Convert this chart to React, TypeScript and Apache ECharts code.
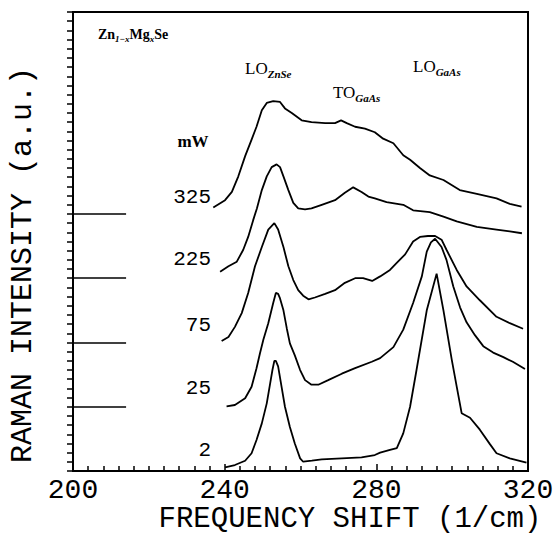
import React, { useEffect, useRef } from "react";
import * as echarts from "echarts";

// ---- data (frequency shift in 1/cm, relative intensity in a.u.) ----
const POWER_LABELS = ["2", "25", "75", "225", "325"];
const OFFSETS = [0, 7, 14, 21, 28];
const X_TICKS = [200, 240, 280, 320];

const FREQ_2MW = [240.1, 242.7, 245.4, 247.1, 248.4, 249.8, 251.1, 252.0, 252.6, 253.1, 253.5, 254.1, 255.0, 255.9, 257.2, 258.5, 259.9, 260.7, 263.0, 265.6, 270.9, 276.1, 279.6, 281.0, 283.6, 285.4, 287.1, 288.9, 290.6, 293.3, 295.9, 297.7, 299.9, 301.2, 302.5, 304.7, 307.3, 310.0, 311.7, 315.2, 319.6];
const INT_2MW = [0.4, 0.65, 1.12, 1.93, 3.38, 5.19, 7.37, 9.55, 11.0, 12.0, 12.0, 11.4, 9.2, 7.0, 4.8, 3.0, 1.38, 1.01, 1.12, 1.27, 1.38, 1.49, 1.74, 2.0, 2.3, 2.5, 4.1, 7.0, 11.0, 17.5, 21.5, 17.5, 12.1, 9.2, 6.3, 5.8, 4.5, 2.9, 1.93, 1.38, 0.9];

const FREQ_25MW = [240.5, 242.7, 245.4, 247.1, 248.4, 249.3, 250.2, 251.5, 252.8, 253.5, 254.1, 254.6, 255.5, 256.4, 257.2, 258.5, 259.9, 261.2, 262.9, 264.7, 267.3, 270.9, 274.4, 278.8, 281.0, 284.5, 287.1, 289.7, 292.0, 293.3, 294.4, 295.5, 297.2, 298.5, 300.3, 302.1, 303.8, 306.0, 308.2, 310.8, 313.5, 316.0, 319.2];
const INT_25MW = [0.05, 0.19, 0.92, 2.18, 4.2, 5.8, 7.3, 9.1, 11.3, 12.4, 12.3, 11.8, 10.5, 8.5, 6.9, 5.6, 4.0, 2.9, 2.4, 2.4, 2.9, 3.6, 4.2, 4.9, 5.3, 6.5, 8.4, 11.3, 14.2, 16.9, 17.9, 18.3, 17.4, 16.0, 13.1, 10.8, 9.2, 7.8, 6.6, 5.9, 5.4, 4.9, 4.1];

const FREQ_75MW = [239.2, 241.0, 242.7, 244.5, 246.2, 248.0, 249.8, 251.5, 253.1, 254.1, 255.5, 256.8, 258.1, 259.4, 260.7, 262.1, 263.8, 266.5, 269.1, 271.7, 274.4, 276.5, 278.9, 281.0, 283.6, 285.7, 287.6, 289.7, 291.5, 293.6, 295.5, 297.2, 298.5, 301.2, 303.8, 307.3, 311.7, 315.2, 318.7];
const INT_75MW = [0.16, 0.6, 1.7, 3.2, 5.4, 8.3, 10.4, 12.3, 13.0, 12.3, 10.4, 8.3, 6.8, 5.7, 5.1, 4.7, 4.9, 5.3, 5.7, 6.5, 7.0, 7.0, 6.7, 7.2, 7.9, 8.8, 9.6, 11.0, 11.5, 11.6, 11.6, 11.2, 10.1, 7.9, 6.1, 4.6, 2.8, 2.1, 1.5];

const FREQ_225MW = [238.8, 241.0, 243.2, 244.9, 246.2, 247.5, 248.5, 249.8, 251.1, 252.4, 253.7, 254.6, 255.5, 256.8, 258.1, 259.4, 261.2, 262.9, 265.6, 269.1, 271.7, 273.9, 276.1, 277.9, 279.6, 282.7, 287.1, 289.7, 294.1, 297.7, 301.2, 306.5, 311.7, 315.2, 318.4];
const INT_225MW = [0.7, 1.3, 1.8, 3.1, 4.5, 6.3, 7.6, 9.6, 11.1, 12.1, 12.4, 12.1, 11.1, 9.6, 8.2, 7.6, 7.5, 7.6, 8.0, 8.5, 9.3, 9.9, 9.4, 8.9, 8.7, 8.3, 8.0, 7.4, 7.2, 6.7, 6.2, 5.6, 5.3, 5.1, 4.9];

const FREQ_325MW = [237.0, 240.1, 241.9, 243.6, 245.4, 247.1, 248.4, 249.8, 251.1, 252.8, 254.6, 255.9, 257.7, 260.3, 262.9, 266.5, 269.1, 270.7, 272.2, 274.4, 277.0, 279.6, 281.8, 284.5, 287.1, 288.9, 291.5, 294.1, 297.7, 302.0, 306.5, 311.7, 315.2, 318.3];
const INT_325MW = [0.7, 1.5, 2.4, 4.1, 6.3, 8.1, 9.5, 11.3, 12.1, 12.3, 12.2, 11.5, 11.0, 10.2, 10.0, 9.9, 9.9, 10.2, 9.9, 9.5, 9.3, 8.9, 8.2, 7.7, 6.4, 5.9, 5.0, 4.2, 3.7, 2.6, 2.2, 1.7, 1.1, 0.8];

const SPECTRA = [
  [FREQ_2MW, INT_2MW],
  [FREQ_25MW, INT_25MW],
  [FREQ_75MW, INT_75MW],
  [FREQ_225MW, INT_225MW],
  [FREQ_325MW, INT_325MW],
];

const BASELINE_MARK_END = 214; // baseline stubs from 200 to this frequency

// ---- styling / layout ----
const MONO = "'Liberation Mono', 'DejaVu Sans Mono', monospace";
const SERIF = "'Liberation Serif', 'DejaVu Serif', serif";
const POWER_LABEL_Y = [450, 388, 325, 259, 197];

export default function App() {
  const ref = useRef<HTMLDivElement>(null);

  useEffect(() => {
    if (!ref.current) return;
    const chart = echarts.init(ref.current, undefined, { renderer: "svg" });

    const lineSeries = SPECTRA.map(([freq, inten], i) => ({
      type: "line",
      name: POWER_LABELS[i] + " mW",
      data: freq.map((f, j) => [f, OFFSETS[i] + inten[j]]),
      showSymbol: false,
      symbol: "none",
      smooth: false,
      lineStyle: { color: "#000", width: 1.8 },
      z: 3,
    }));

    const baselineSeries = {
      type: "line",
      name: "baselines",
      data: [],
      silent: true,
      markLine: {
        silent: true,
        symbol: "none",
        label: { show: false },
        lineStyle: { color: "#000", width: 1.5, type: "solid" },
        data: OFFSETS.slice(1).map((o) => [
          { coord: [X_TICKS[0], o] },
          { coord: [BASELINE_MARK_END, o] },
        ]),
      },
    };

    const sub = (size: number, lh: number) => ({
      fontFamily: SERIF,
      fontSize: size,
      fontStyle: "italic",
      fontWeight: "bold",
      fill: "#000",
      lineHeight: lh,
      verticalAlign: "bottom",
    });
    const main = (size: number, lh: number, bold?: boolean) => ({
      fontFamily: SERIF,
      fontSize: size,
      fontWeight: bold ? "bold" : "normal",
      fill: "#000",
      lineHeight: lh,
      verticalAlign: "top",
    });

    const peakLabel = (x: number, y: number, a: string, b: string) => ({
      type: "text",
      left: x,
      top: y,
      style: {
        text: `{a|${a}}{b|${b}}`,
        rich: { a: main(17, 18), b: sub(11, 19) },
      },
    });

    const graphics: any[] = [
      peakLabel(245, 60, "LO", "ZnSe"),
      peakLabel(333, 84, "TO", "GaAs"),
      peakLabel(413, 58, "LO", "GaAs"),
      {
        type: "text",
        left: 98,
        top: 27,
        style: {
          text: "{a|Zn}{s|1−x}{a|Mg}{s|x}{a|Se}",
          rich: {
            a: main(14, 15, true),
            s: { ...sub(9, 16) },
          },
        },
      },
      {
        type: "text",
        x: 193,
        y: 141,
        style: {
          text: "mW",
          font: `bold 17px ${SERIF}`,
          fill: "#000",
          align: "center",
          verticalAlign: "middle",
          textAlign: "center",
          textVerticalAlign: "middle",
        },
      },
      ...POWER_LABELS.map((t, i) => ({
        type: "text",
        x: 211,
        y: POWER_LABEL_Y[i],
        style: {
          text: t,
          font: `21px ${MONO}`,
          fill: "#000",
          align: "right",
          verticalAlign: "middle",
          textAlign: "right",
          textVerticalAlign: "middle",
        },
      })),
      {
        type: "text",
        x: 350,
        y: 519,
        style: {
          text: "FREQUENCY SHIFT (1/cm)",
          font: `29px ${MONO}`,
          fill: "#000",
          align: "center",
          verticalAlign: "middle",
          textAlign: "center",
          textVerticalAlign: "middle",
        },
      },
      {
        type: "text",
        x: 23,
        y: 265,
        rotation: Math.PI / 2,
        style: {
          text: "RAMAN INTENSITY (a.u.)",
          font: `30px ${MONO}`,
          fill: "#000",
          align: "center",
          verticalAlign: "middle",
          textAlign: "center",
          textVerticalAlign: "middle",
        },
      },
    ];

    chart.setOption({
      animation: false,
      backgroundColor: "#fff",
      grid: {
        left: 73,
        right: 31,
        top: 12,
        bottom: 66,
        show: true,
        borderColor: "#000",
        borderWidth: 2,
        backgroundColor: "transparent",
      },
      xAxis: {
        type: "value",
        min: 200,
        max: 320,
        interval: 40,
        axisLine: { show: true, lineStyle: { color: "#000", width: 2 } },
        axisTick: { show: true, inside: true, length: 7, lineStyle: { color: "#000", width: 1.5 } },
        minorTick: { show: true, splitNumber: 10, length: 5, lineStyle: { color: "#000", width: 1.5 } },
        splitLine: { show: false },
        axisLabel: {
          showMinLabel: true,
          showMaxLabel: true,
          fontFamily: MONO,
          fontSize: 28,
          lineHeight: 28,
          color: "#000",
          margin: 5,
          formatter: (v: number) => (X_TICKS.includes(v) ? String(v) : ""),
        },
      },
      yAxis: {
        type: "value",
        min: 0,
        max: 50,
        interval: 1,
        axisLine: { show: true, lineStyle: { color: "#000", width: 2 } },
        axisTick: { show: true, inside: false, length: 6, lineStyle: { color: "#000", width: 1.5 } },
        axisLabel: { show: false },
        splitLine: { show: false },
      },
      series: [...lineSeries, baselineSeries],
      graphic: graphics,
    });

    return () => chart.dispose();
  }, []);

  return (
    <div
      ref={ref}
      style={{ position: "absolute", left: 0, top: 0, width: 559, height: 537, background: "#fff" }}
    />
  );
}
